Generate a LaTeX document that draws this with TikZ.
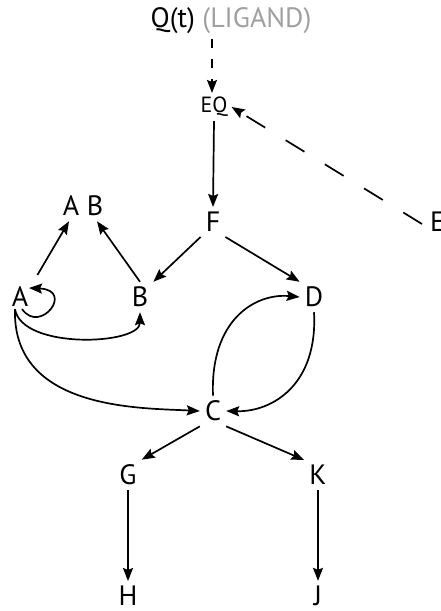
\documentclass[tikz,border=0pt]{standalone}
\usepackage{fontspec}
\setmainfont{PT Sans}
\usetikzlibrary{arrows.meta}
\definecolor{lig}{RGB}{160,160,160}
\tikzset{
  lbl/.style={inner sep=5pt, font=\fontsize{28}{30}\selectfont},
  small/.style={inner sep=4pt, font=\fontsize{22}{24}\selectfont},
  arr/.style={line width=1.7pt, -{Stealth[length=13pt,width=10pt,inset=2pt]}},
  arrd/.style={arr, dash pattern=on 9pt off 11pt},
  arrdl/.style={arr, dash pattern=on 22pt off 24pt},
}
\begin{document}
\begin{tikzpicture}[x=1pt,y=-1pt]
\useasboundingbox (0,0) rectangle (441,611);
\node[lbl] (Q) at (231,21) {Q(t) \textcolor{lig}{(LIGAND)}};
\node[small] (EQ) at (214,107) {EQ};
\node[lbl, anchor=west, inner sep=1pt] (E) at (429,222) {E};
\node[lbl] (F) at (213,222) {F};
\node[lbl] (AB) at (83,206) {A B};
\node[lbl] (A) at (20,297) {A};
\node[lbl] (B) at (140,297) {B};
\node[lbl] (D) at (314,297) {D};
\node[lbl] (C) at (213,411) {C};
\node[lbl] (G) at (128,475) {G};
\node[lbl] (K) at (318,475) {K};
\node[lbl] (H) at (128,596) {H};
\node[lbl] (J) at (318,596) {J};

\draw[arrd] (Q.south -| EQ.north) ++(-2,0) coordinate (q0) -- ([xshift=-2pt]EQ.north);
\draw[arrdl] ([xshift=-7pt,yshift=-13pt]E.north west) -- (EQ.east);
\draw[arr] (EQ.south) -- (F.north);
\draw[arr] (F.south west) -- (B.north east);
\draw[arr] (F.south east) -- (D.north west);
\draw[arr, shorten <=8pt] (A.north east) -- ([xshift=-14pt]AB.south);
\draw[arr] (B.north) -- ([xshift=14pt]AB.south);
\draw[arr] ([shift={(2,12)}]A.center) .. controls +(18,26) and +(46,2) .. ([shift={(9,-9)}]A.center);
\draw[arr] ([xshift=-5pt,yshift=3pt]A.south) .. controls (22,350) and (140,345) .. (B.south);
\draw[arr] ([xshift=-5pt,yshift=3pt]A.south) .. controls (12,410) and (140,408) .. (C.west);
\draw[arr] (C.north) .. controls (210,320) and (255,293) .. (D.west);
\draw[arr] (D.south) .. controls (318,385) and (272,412) .. (C.east);
\draw[arr] (C.south west) -- (G.north east);
\draw[arr] (C.south east) -- (K.north west);
\draw[arr] (G.south) -- (H.north);
\draw[arr] (K.south) -- (J.north);
\end{tikzpicture}
\end{document}
